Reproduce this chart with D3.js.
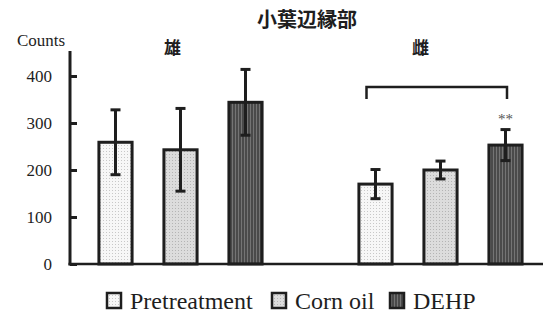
<!DOCTYPE html>
<html>
<head>
<meta charset="utf-8">
<script src="https://cdn.jsdelivr.net/npm/d3@7"></script>
<style>
  html, body { margin: 0; padding: 0; background: #fff; }
  svg { display: block; }
</style>
</head>
<body>
<svg id="chart" width="545" height="325"></svg>
<script>
// Groups, series and values (mean ± SD)
const groups = ["雄", "雌"];
const series = ["Pretreatment", "Corn oil", "DEHP"];
const means = {
  "雄": [259, 243, 344],
  "雌": [170, 200, 253]
};
const errors = {
  "雄": [69, 88, 70],
  "雌": [31, 19, 33]
};
const yTicks = [0, 100, 200, 300, 400];
const title = "小葉辺縁部";
const yLabel = "Counts";
const significance = "**";

const svg = d3.select("#chart");
const ink = "#1e1e1e";
const SERIF = "Liberation Serif";
const CJK = "Noto Sans CJK JP";

// Fill patterns for the three treatment series
const defs = svg.append("defs");
function dotPattern(id, bg, dot) {
  const p = defs.append("pattern").attr("id", id)
    .attr("patternUnits", "userSpaceOnUse").attr("width", 3).attr("height", 3);
  p.append("rect").attr("width", 3).attr("height", 3).attr("fill", bg);
  p.append("rect").attr("x", 1).attr("y", 1).attr("width", 1).attr("height", 1).attr("fill", dot);
}
dotPattern("pPre", "#f7f7f7", "#c8c8c8");
dotPattern("pCorn", "#dcdcdc", "#b4b4b4");
const stripe = defs.append("pattern").attr("id", "pDehp")
  .attr("patternUnits", "userSpaceOnUse").attr("width", 3).attr("height", 3);
stripe.append("rect").attr("width", 3).attr("height", 3).attr("fill", "#4a4a4a");
stripe.append("rect").attr("x", 1).attr("width", 1).attr("height", 3).attr("fill", "#747474");
const fills = ["url(#pPre)", "url(#pCorn)", "url(#pDehp)"];

// Scales
const y = d3.scaleLinear().domain([0, 400]).range([264, 76]);
const x0 = d3.scaleBand().domain(groups).range([50.5, 570.5]).padding(0);
const x1 = d3.scaleBand().domain(series)
  .range([-97.5, 97.5]).paddingInner(0.49).paddingOuter(0.245);
const cx = (g, s) => x0(g) + x0.bandwidth() / 2 + x1(s);

function serifText(sel) {
  return sel.attr("font-family", SERIF).style("font-family", SERIF);
}

// Title
svg.append("text").attr("x", 307).attr("y", 27)
  .attr("text-anchor", "middle").attr("font-size", 20).attr("fill", ink)
  .attr("font-weight", "bold").style("font-family", CJK)
  .text(title);

// Y axis label
serifText(svg.append("text")).attr("x", 41).attr("y", 46)
  .attr("text-anchor", "middle").attr("font-size", 17).attr("fill", ink).text(yLabel);

// Group labels
const groupLabelShift = { "雄": -8, "雌": -20 };
svg.selectAll(".glabel").data(groups).join("text")
  .attr("class", "glabel")
  .attr("x", g => x0(g) + x0.bandwidth() / 2 + groupLabelShift[g])
  .attr("y", 54).attr("text-anchor", "middle")
  .attr("font-weight", "bold").style("font-family", CJK)
  .attr("font-size", 17).attr("fill", ink).text(g => g);

// Bars
const barData = groups.flatMap(g => series.map((s, i) => ({
  g, s, i, v: means[g][i], e: errors[g][i]
})));

svg.append("g").selectAll("rect").data(barData).join("rect")
  .attr("x", d => cx(d.g, d.s))
  .attr("y", d => y(d.v))
  .attr("width", x1.bandwidth())
  .attr("height", d => y(0) - y(d.v))
  .attr("fill", d => fills[d.i])
  .attr("stroke", ink).attr("stroke-width", 3);

// Error bars
const eb = svg.append("g").attr("stroke", ink).attr("stroke-width", 3);
barData.forEach(d => {
  const mx = cx(d.g, d.s) + x1.bandwidth() / 2;
  eb.append("line").attr("x1", mx).attr("x2", mx)
    .attr("y1", y(d.v + d.e)).attr("y2", y(d.v - d.e));
  [d.v + d.e, d.v - d.e].forEach(v => {
    eb.append("line").attr("x1", mx - 5).attr("x2", mx + 5)
      .attr("y1", y(v)).attr("y2", y(v));
  });
});

// Y axis with inward ticks
const yAxis = d3.axisRight(y).tickValues(yTicks).tickSize(7).tickFormat("");
const ya = svg.append("g").attr("transform", "translate(70,0)").call(yAxis);
ya.select(".domain").remove();
ya.selectAll(".tick line").attr("stroke", ink).attr("stroke-width", 3);
svg.append("line").attr("x1", 70).attr("x2", 70).attr("y1", 51).attr("y2", 265.5)
  .attr("stroke", ink).attr("stroke-width", 3);
serifText(svg.selectAll(".ytl").data(yTicks).join("text").attr("class", "ytl"))
  .attr("x", 52).attr("y", d => y(d) + 6)
  .attr("text-anchor", "end").attr("font-size", 17).attr("fill", ink).text(d => d);

// X baseline
svg.append("line").attr("x1", 68.5).attr("x2", 543).attr("y1", y(0)).attr("y2", y(0))
  .attr("stroke", ink).attr("stroke-width", 2.5);

// Significance bracket over the female group
const bl = cx("雌", series[0]) + x1.bandwidth() / 2 - 9;
const br = cx("雌", series[2]) + x1.bandwidth() / 2 + 1.5;
svg.append("path")
  .attr("d", `M${bl},99 V87 H${br} V99`)
  .attr("fill", "none").attr("stroke", ink).attr("stroke-width", 2.5);
serifText(svg.append("text"))
  .attr("x", cx("雌", series[2]) + x1.bandwidth() / 2)
  .attr("y", y(means["雌"][2] + errors["雌"][2]) - 6)
  .attr("text-anchor", "middle").attr("font-size", 15).attr("fill", "#555").text(significance);

// Legend: swatch then label for each series
const legendBoxX = [107, 272, 390];
const lg = svg.append("g");
series.forEach((s, i) => {
  lg.append("rect").attr("x", legendBoxX[i]).attr("y", 293).attr("width", 14).attr("height", 15)
    .attr("fill", fills[i]).attr("stroke", ink).attr("stroke-width", 2.5);
  serifText(lg.append("text")).attr("x", legendBoxX[i] + 23).attr("y", 309)
    .attr("font-size", 24).attr("fill", ink).text(s);
});
</script>
</body>
</html>
